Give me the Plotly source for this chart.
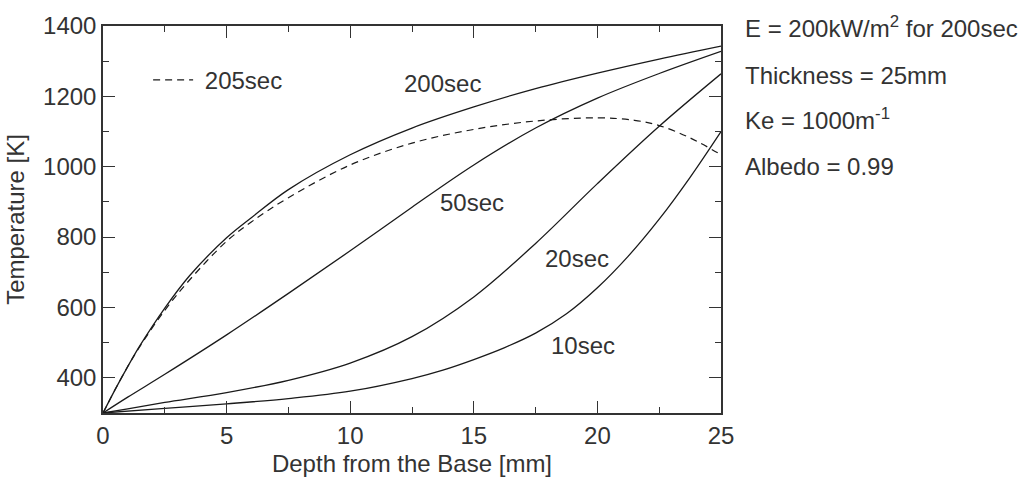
import plotly.graph_objects as go

# Depth from the base [mm] and temperature [K] for each time
x_200 = [0, 0.5, 1, 1.5, 2.5, 3.5, 5, 6, 7.5, 10, 12.5, 15, 17.5, 20, 22.5, 25]
t_200 = [300, 368, 432, 492, 598, 690, 798, 855, 935, 1034, 1110, 1170, 1222, 1266, 1306, 1343]

x_205 = [0, 0.5, 1, 1.5, 2.5, 3.5, 5, 6, 7.5, 10, 12.5, 15, 17.5, 20, 21.5, 22.5, 23.75, 25]
t_205 = [300, 368, 432, 490, 592, 678, 788, 843, 912, 1005, 1067, 1106, 1130, 1139, 1132, 1117, 1082, 1034]

x_50 = [0, 1, 2.5, 5, 7.5, 10, 12.5, 15, 17.5, 20, 22.5, 25]
t_50 = [300, 345, 410, 522, 640, 761, 885, 1005, 1110, 1195, 1265, 1328]

x_20 = [0, 1, 2.5, 5, 7.5, 10, 12.5, 15, 17.5, 20, 22.5, 25]
t_20 = [300, 312, 330, 358, 393, 442, 517, 630, 782, 952, 1115, 1264]

x_10 = [0, 2.5, 5, 7.5, 10, 12.5, 13.75, 15, 16.25, 17.5, 18.75, 20, 21.25, 22.5, 23.75, 25]
t_10 = [300, 313, 326, 341, 362, 398, 422, 452, 486, 527, 582, 656, 746, 851, 970, 1100]

# Curve labels: (text, x, y)
curve_labels = [("200sec", 13.75, 1236), ("50sec", 14.93, 899),
                ("20sec", 19.17, 740), ("10sec", 19.42, 492)]

info_lines = ["E = 200kW/m<sup>2</sup> for 200sec", "Thickness = 25mm",
              "Ke = 1000m<sup>-1</sup>", "Albedo = 0.99"]
info_y = [0.997, 0.873, 0.759, 0.638]

FONT = "Liberation Sans, Arial, sans-serif"
TXT = "#333333"
LINE = "#1a1a1a"

fig = go.Figure()
for xs, ts in [(x_200, t_200), (x_50, t_50), (x_20, t_20), (x_10, t_10)]:
    fig.add_trace(go.Scatter(x=xs, y=ts, mode="lines", showlegend=False,
                             line=dict(color=LINE, width=1.3, shape="spline", smoothing=1.0)))
fig.add_trace(go.Scatter(x=x_205, y=t_205, mode="lines", name=" 205sec",
                         showlegend=True,
                         line=dict(color=LINE, width=1.2, shape="spline", smoothing=1.0,
                                   dash="7px,5px")))

ann = []
for txt, ax, ay in curve_labels:
    ann.append(dict(x=ax, y=ay, xref="x", yref="y", text=txt, showarrow=False,
                    font=dict(family=FONT, size=24, color=TXT)))
for txt, py in zip(info_lines, info_y):
    ann.append(dict(x=1.0356, y=py, xref="paper", yref="paper", text=txt,
                    showarrow=False, xanchor="left", yanchor="middle",
                    font=dict(family=FONT, size=24, color=TXT)))

axis_common = dict(showgrid=False, zeroline=False, showline=True, linecolor="#333333",
                   linewidth=1.5, mirror="allticks", ticks="inside", ticklen=12,
                   tickwidth=1.3, tickcolor="#333333",
                   tickfont=dict(family=FONT, size=24, color=TXT))

fig.update_layout(
    width=1032, height=485,
    margin=dict(l=103, r=311, t=18, b=65),
    paper_bgcolor="white", plot_bgcolor="white",
    font=dict(family=FONT, size=24, color=TXT),
    annotations=ann,
    legend=dict(x=0.073, y=0.86, xanchor="left", yanchor="middle",
                bgcolor="rgba(0,0,0,0)", font=dict(family=FONT, size=24, color=TXT),
                itemwidth=40, tracegroupgap=0),
    xaxis=dict(range=[0, 25], dtick=5, tick0=0,
               minor=dict(dtick=2.5, ticks="inside", ticklen=6, tickwidth=1.3,
                          tickcolor="#333333"),
               title=dict(text="Depth from the Base [mm]", standoff=8,
                          font=dict(family=FONT, size=24, color=TXT)),
               **axis_common),
    yaxis=dict(range=[300, 1400], dtick=200, tick0=0,
               minor=dict(dtick=100, ticks="inside", ticklen=6, tickwidth=1.3,
                          tickcolor="#333333"),
               title=dict(text="Temperature [K]", standoff=12,
                          font=dict(family=FONT, size=24, color=TXT)),
               **axis_common),
)

fig.write_html("out.html")
